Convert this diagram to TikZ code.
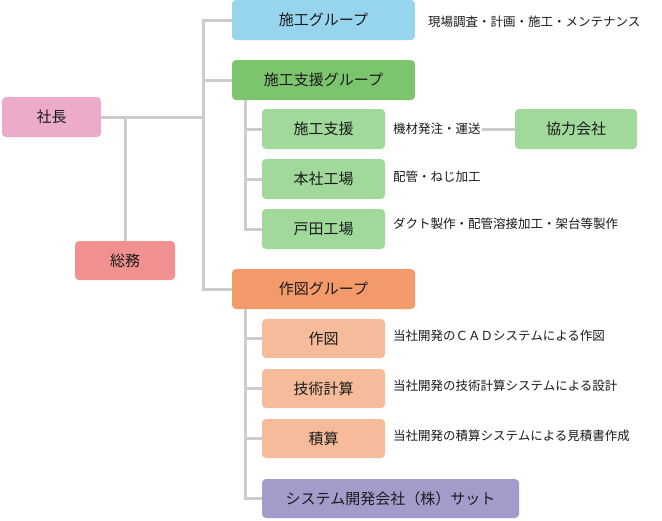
\documentclass[tikz,border=0pt]{standalone}
\usepackage{fontspec}
\newfontfamily\jpfont{Noto Sans CJK JP}
\usetikzlibrary{positioning}
\definecolor{kouji}{HTML}{97D5EE}
\definecolor{shien}{HTML}{7DC46F}
\definecolor{shienlt}{HTML}{A0D99A}
\definecolor{shacho}{HTML}{EDABCB}
\definecolor{soumu}{HTML}{F09090}
\definecolor{sakuzu}{HTML}{F39A6A}
\definecolor{sakuzult}{HTML}{F5BB9B}
\definecolor{sat}{HTML}{A59BCB}
\definecolor{wire}{HTML}{CCCCCC}
\definecolor{ink}{HTML}{1A1A1A}
\begin{document}
\begin{tikzpicture}[x=1pt,y=-1pt,
  box/.style={rounded corners=4pt,minimum height=40pt,inner sep=0pt,
    text=ink,font=\jpfont\fontsize{15}{15}\selectfont},
  grp/.style={box,minimum width=183pt},
  sub/.style={box,minimum width=123pt},
  desc/.style={anchor=west,inner sep=1pt,text=ink,
    font=\jpfont\fontsize{12.5}{13}\selectfont},
  wire/.style={draw=wire,line width=3pt}]
\useasboundingbox (0,0) rectangle (662,520);
\node[box,fill=shacho,minimum width=99pt] (pres) at (51.5,117) {社長};
\node[box,fill=soumu,minimum width=100pt,minimum height=39pt] (somu) at (125,260.5) {総務};
\node[grp,fill=kouji] (g1) at (323.5,20) {施工グループ};
\node[grp,fill=shien] (g2) at (323.5,80) {施工支援グループ};
\node[grp,fill=sakuzu] (g3) at (323.5,289) {作図グループ};
\node[sub,fill=shienlt] (s1) at (323.5,129) {施工支援};
\node[sub,fill=shienlt] (s2) at (323.5,179) {本社工場};
\node[sub,fill=shienlt] (s3) at (323.5,229) {戸田工場};
\node[box,fill=shienlt,minimum width=122pt] (kyo) at (576,129) {協力会社};
\node[sub,fill=sakuzult,minimum height=39pt] (d1) at (323.5,338.5) {作図};
\node[sub,fill=sakuzult,minimum height=39pt] (d2) at (323.5,388.5) {技術計算};
\node[sub,fill=sakuzult,minimum height=39pt] (d3) at (323.5,438.5) {積算};
\node[box,fill=sat,minimum width=257pt,minimum height=39pt] (sat) at (390.5,498.5) {システム開発会社（株）サット};
\node[desc] (t1) at (427,22) {現場調査・計画・施工・メンテナンス};
\node[desc] (t2) at (392,129) {機材発注・運送};
\node[desc] (t3) at (392,177) {配管・ねじ加工};
\node[desc] (t4) at (392,224) {ダクト製作・配管溶接加工・架台等製作};
\node[desc] (t5) at (392,336) {当社開発のＣＡＤシステムによる作図};
\node[desc] (t6) at (392,386) {当社開発の技術計算システムによる設計};
\node[desc] (t7) at (392,436) {当社開発の積算システムによる見積書作成};
\coordinate (trunk) at (203,117);
\coordinate (br1) at (245,100);
\coordinate (br2) at (245,309);
\draw[wire] (pres.east) -- (trunk);
\draw[wire] (g1.west) -| (trunk) |- (g3.west);
\draw[wire] (g2.west) -- (g2.west -| trunk);
\draw[wire] (pres.east -| somu) -- (somu.north);
\draw[wire] (br1) |- (s3.west);
\draw[wire] (s1.west) -- (s1.west -| br1);
\draw[wire] (s2.west) -- (s2.west -| br1);
\draw[wire] (br2) |- (sat.west);
\draw[wire] (d1.west) -- (d1.west -| br2);
\draw[wire] (d2.west) -- (d2.west -| br2);
\draw[wire] (d3.west) -- (d3.west -| br2);
\draw[wire] (t2.east) -- (kyo.west);
\end{tikzpicture}
\end{document}
